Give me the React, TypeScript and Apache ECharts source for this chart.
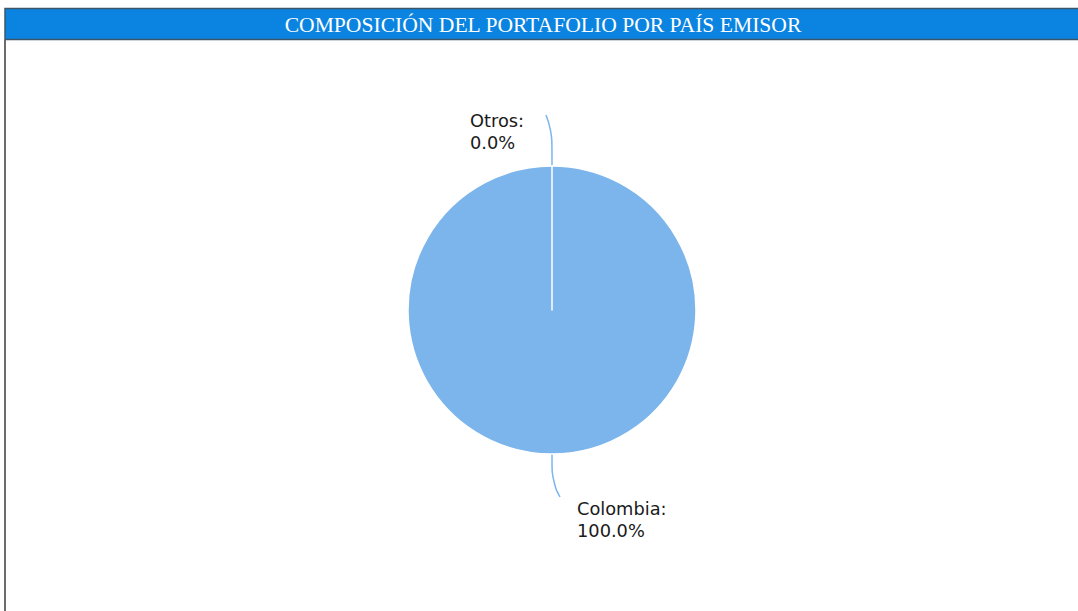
import React, { useEffect, useRef } from "react";
import * as echarts from "echarts";

const titleText = "COMPOSICIÓN DEL PORTAFOLIO POR PAÍS EMISOR";
const categories = ["Colombia", "Otros"];
const values = [100.0, 0.0];
const sliceColor = "#7cb5ec";

export default function App() {
  const ref = useRef<HTMLDivElement>(null);
  useEffect(() => {
    if (!ref.current) return;
    const chart = echarts.init(ref.current, null, { renderer: "svg" });
    chart.setOption({
      animation: false,
      backgroundColor: "#ffffff",
      graphic: [
        {
          type: "rect",
          shape: { x: 5, y: 8.5, width: 1080, height: 31 },
          style: { fill: "#0a84e0", stroke: "#3d5566", lineWidth: 1.5 },
        },
        {
          type: "line",
          shape: { x1: 5, y1: 40, x2: 5, y2: 611 },
          style: { stroke: "#6b6b6b", lineWidth: 2 },
        },
        {
          type: "text",
          x: 543,
          y: 25,
          style: {
            text: titleText,
            fill: "#ffffff",
            font: "21.6px 'Liberation Serif', 'DejaVu Serif', serif",
            align: "center",
            verticalAlign: "middle",
          },
        },
      ],
      series: [
        {
          type: "pie",
          center: [552, 310],
          radius: 144,
          startAngle: 90,
          clockwise: true,
          avoidLabelOverlap: false,
          itemStyle: { color: sliceColor, borderColor: "#ffffff", borderWidth: 1.5 },
          label: {
            show: true,
            formatter: (p: any) => `${p.name}:\n${p.value.toFixed(1)}%`,
            fontFamily: "'DejaVu Sans', sans-serif",
            fontSize: 17.8,
            lineHeight: 22,
            color: "#1a1a1a",
          },
          labelLine: {
            show: true,
            length: 35,
            length2: 10,
            smooth: 0.5,
            lineStyle: { color: sliceColor, width: 1.5 },
          },
          labelLayout: (p: any) => {
            const pts = p.labelLinePoints;
            if (!pts) return {};
            const [ex, ey] = pts[0];
            if (p.dataIndex === 1) {
              return {
                x: ex - 82,
                y: ey - 57,
                align: "left",
                verticalAlign: "top",
                labelLinePoints: [
                  [ex, ey],
                  [ex, ey - 36],
                  [ex - 6, ey - 51],
                ],
              };
            }
            return {
              x: ex + 25,
              y: ey + 43,
              align: "left",
              verticalAlign: "top",
              labelLinePoints: [
                [ex, ey],
                [ex, ey + 28],
                [ex + 8, ey + 43],
              ],
            };
          },
          emphasis: { disabled: true },
          data: categories.map((c, i) => ({ name: c, value: values[i] })),
        },
      ],
    });
    return () => chart.dispose();
  }, []);
  return (
    <div
      ref={ref}
      style={{ position: "absolute", left: 0, top: 0, width: 1078, height: 611 }}
    />
  );
}
